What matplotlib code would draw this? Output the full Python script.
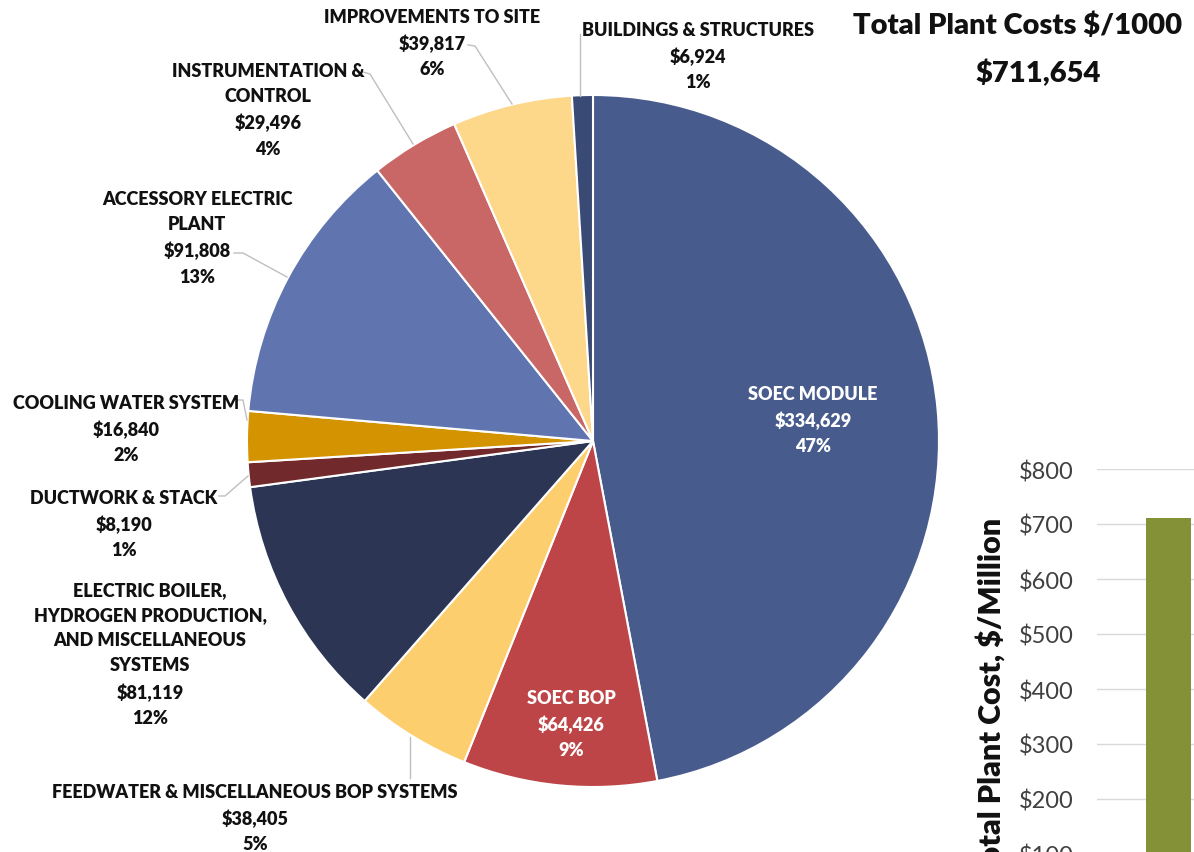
import matplotlib
matplotlib.use("Agg")
import matplotlib.pyplot as plt

# Plant cost breakdown, $/1000
categories = [
    "SOEC MODULE",
    "SOEC BOP",
    "FEEDWATER & MISCELLANEOUS BOP SYSTEMS",
    "ELECTRIC BOILER,\nHYDROGEN PRODUCTION,\nAND MISCELLANEOUS\nSYSTEMS",
    "DUCTWORK & STACK",
    "COOLING WATER SYSTEM",
    "ACCESSORY ELECTRIC\nPLANT",
    "INSTRUMENTATION &\nCONTROL",
    "IMPROVEMENTS TO SITE",
    "BUILDINGS & STRUCTURES",
]
costs = [334629, 64426, 38405, 81119, 8190, 16840, 91808, 29496, 39817, 6924]
percent_labels = ["47%", "9%", "5%", "12%", "1%", "2%", "13%", "4%", "6%", "1%"]
colors = ["#485B8D", "#BE4547", "#FDCE6E", "#2C3654", "#72292B",
          "#D49300", "#6075AF", "#C96767", "#FDD88B", "#394A74"]

y_ticks = [0, 100, 200, 300, 400, 500, 600, 700, 800]

W, H = 1194, 853
FONT = "Lato"
plt.rcParams["font.family"] = [FONT, "DejaVu Sans"]
BOLD = "heavy"

fig = plt.figure(figsize=(W / 100, H / 100), dpi=100)
fig.patch.set_facecolor("white")

# ---- pie, drawn in a pixel-scaled axes ----
ax = fig.add_axes([0, 0, 1, 1])


def P(x, y):
    return x, H - y


cx, cy = P(593, 442)
ax.pie(costs, colors=colors, startangle=90, counterclock=False,
       center=(cx, cy), radius=346, frame=True,
       wedgeprops=dict(edgecolor="white", linewidth=1.5))
ax.set_xlim(0, W)
ax.set_ylim(0, H)
ax.set_aspect("equal")
ax.axis("off")

# label anchor (center x, top y) and text colour for each slice
label_pos = [
    (813, 386, "white"),
    (571, 690, "white"),
    (255, 784, "#111111"),
    (150, 582, "#111111"),
    (124, 490, "#111111"),
    (126, 395, "#111111"),
    (197, 191, "#111111"),
    (268, 63, "#111111"),
    (432, 9, "#111111"),
    (698, 22, "#111111"),
]
for name, val, pct, (lx, ly, col) in zip(categories, costs, percent_labels, label_pos):
    txt = f"{name}\n${val:,}\n{pct}"
    ax.text(*P(lx, ly), txt, ha="center", va="top", fontsize=13,
            fontweight=BOLD, color=col, linespacing=1.58)

# leader lines
leaders = [
    [(410, 738), (410, 779)],
    [(219, 497), (225, 497), (248, 477)],
    [(237, 401), (243, 401), (247, 421)],
    [(234, 254), (243, 254), (287, 278)],
    [(363, 73), (370, 75), (413, 145)],
    [(468, 46), (475, 47), (512, 105)],
    [(580, 35), (580, 97)],
]
for seg in leaders:
    xs = [p[0] for p in seg]
    ys = [H - p[1] for p in seg]
    ax.plot(xs, ys, color="#BFBFBF", linewidth=1)

# ---- title block ----
total = sum(costs)
ax.text(*P(1018, 12), "Total Plant Costs $/1000", ha="center", va="top",
        fontsize=21, fontweight=BOLD, color="#111111")
ax.text(*P(1038, 60), f"${total:,}", ha="center", va="top",
        fontsize=21, fontweight=BOLD, color="#111111")

# ---- total cost bar ----
bax = fig.add_axes([1097 / W, (H - 910) / H, 203 / W, 440 / H])
bax.bar([0], [total / 1000], width=0.6, color="#859137", zorder=3)
bax.set_xlim(-0.953, 1.754)
bax.set_ylim(0, 800)
bax.set_yticks(y_ticks)
bax.set_yticklabels([f"${v}" for v in y_ticks])
bax.set_xticks([])
bax.grid(axis="y", color="#D9D9D9", linewidth=1, zorder=0)
for s in bax.spines.values():
    s.set_visible(False)
bax.tick_params(axis="y", length=0, pad=17, labelsize=17, labelcolor="#404040")
bax.patch.set_alpha(0)

fig.text(991 / W, 1 - 518 / H, "Total Plant Cost, $/Million", rotation=90,
         ha="center", va="top", fontsize=22, fontweight=BOLD, color="#111111")

fig.savefig("out.png", dpi=100, facecolor="white")
